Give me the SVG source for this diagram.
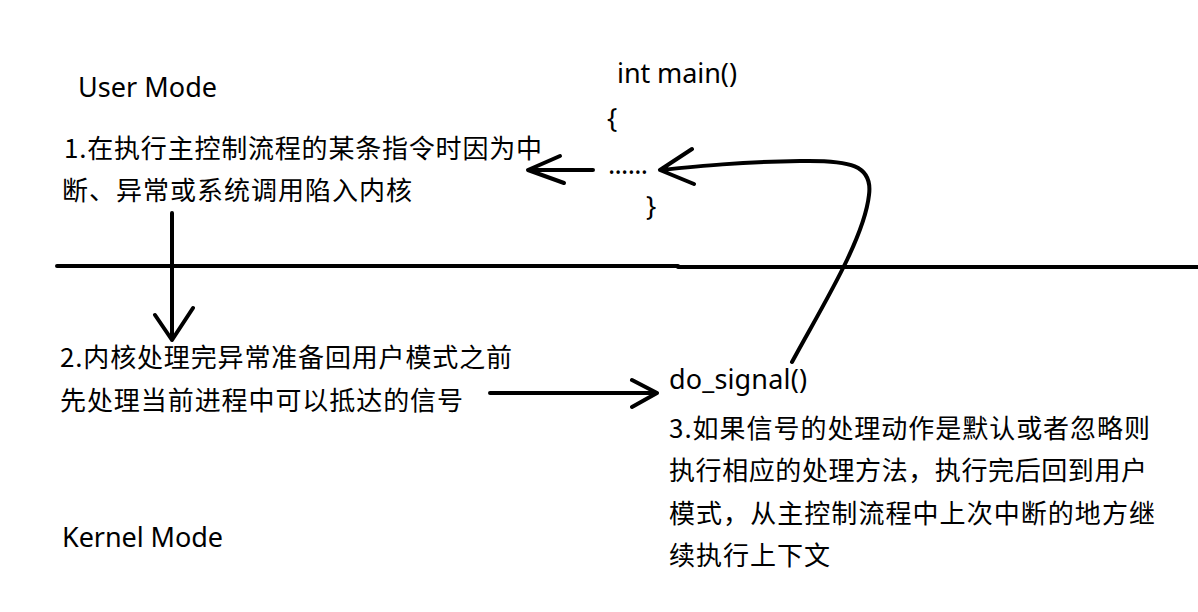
<svg xmlns="http://www.w3.org/2000/svg" width="1198" height="612" viewBox="0 0 1198 612">
<style>
.t{font-family:"Noto Sans CJK SC","Noto Sans",sans-serif;font-size:26px;fill:#000}
.l{font-family:"Noto Sans","Noto Sans CJK SC",sans-serif;font-size:27px;fill:#000}
.s{fill:none;stroke:#000;stroke-width:4;stroke-linecap:round;stroke-linejoin:round}
</style>
<rect width="1198" height="612" fill="#fff"/>
<g id="user-mode"><text class="l" x="78" y="97" textLength="139">User Mode</text></g>
<g id="kernel-mode"><text class="l" x="62" y="547" textLength="161">Kernel Mode</text></g>
<g id="step1">
<text class="t" x="64" y="158" textLength="478">1.在执行主控制流程的某条指令时因为中</text>
<text class="t" x="62" y="200" textLength="350">断、异常或系统调用陷入内核</text>
</g>
<g id="main-code">
<text class="l" x="617" y="83" textLength="120">int main()</text>
<text class="l" x="607" y="128">{</text>
<text class="l" x="608" y="174" textLength="40">......</text>
<text class="l" x="646" y="216">}</text>
</g>
<g id="step2">
<text class="t" x="60" y="367" textLength="452">2.内核处理完异常准备回用户模式之前</text>
<text class="t" x="60" y="410" textLength="403">先处理当前进程中可以抵达的信号</text>
</g>
<g id="step3">
<text class="l" x="669" y="389" textLength="138">do_signal()</text>
<text class="t" x="669" y="438" textLength="481">3.如果信号的处理动作是默认或者忽略则</text>
<text class="t" x="669" y="480" textLength="478">执行相应的处理方法，执行完后回到用户</text>
<text class="t" x="669" y="523" textLength="486">模式，从主控制流程中上次中断的地方继</text>
<text class="t" x="669" y="565" textLength="161">续执行上下文</text>
</g>
<g id="connectors">
<path class="s" d="M57 266 H678 V267 H1198" stroke-linecap="butt"/>
<path class="s" d="M593 170 H528 M560 156 L528 170 L564 183"/>
<path class="s" d="M172 213 V340 M155 315 L172 340 L193 308"/>
<path class="s" d="M490 393 H657 M632 380 L657 393 L632 407"/>
<path class="s" d="M792 362 C820 310 864 240 869 195 C873 165 850 160 800 161 C740 162 700 166 660 170 M692 149 L660 170 L694 184"/>
</g>
</svg>
